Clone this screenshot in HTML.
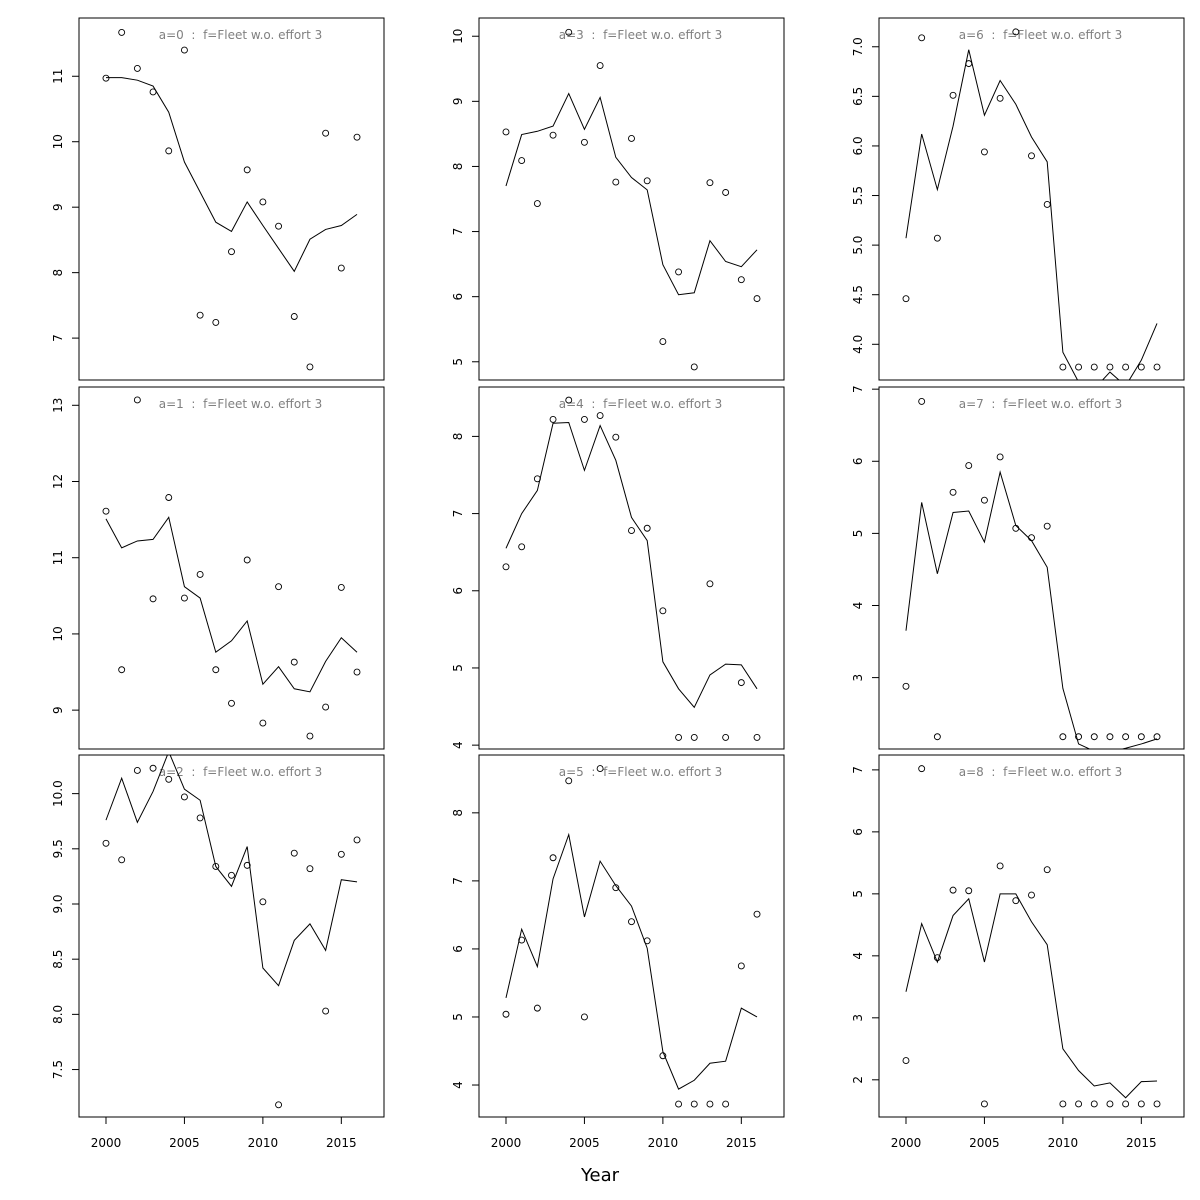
<!DOCTYPE html>
<html><head><meta charset="utf-8"><style>body{margin:0;background:#fff}svg{display:block}text{white-space:pre}</style></head>
<body>
<svg id="chart" width="1200" height="1200" xmlns="http://www.w3.org/2000/svg" font-family="'DejaVu Sans','Liberation Sans',sans-serif"></svg>
<script>
const years = [2000,2001,2002,2003,2004,2005,2006,2007,2008,2009,2010,2011,2012,2013,2014,2015,2016];
const xTicks = [2000,2005,2010,2015];
const ages = [0,3,6,1,4,7,2,5,8];
const obsA0 = [10.97,11.67,11.12,10.76,9.86,11.40,7.35,7.24,8.32,9.57,9.08,8.71,7.33,6.56,10.13,8.07,10.07];
const fitA0 = [10.98,10.98,10.94,10.85,10.45,9.69,9.23,8.77,8.63,9.08,8.72,8.37,8.02,8.51,8.66,8.72,8.89];
const obsA3 = [8.53,8.09,7.43,8.48,10.06,8.37,9.55,7.76,8.43,7.78,5.31,6.38,4.92,7.75,7.60,6.26,5.97];
const fitA3 = [7.70,8.49,8.54,8.62,9.12,8.57,9.06,8.14,7.83,7.64,6.49,6.03,6.06,6.86,6.54,6.46,6.72];
const obsA6 = [4.46,7.09,5.07,6.51,6.83,5.94,6.48,7.15,5.90,5.41,3.77,3.77,3.77,3.77,3.77,3.77,3.77];
const fitA6 = [5.07,6.12,5.56,6.20,6.97,6.31,6.66,6.42,6.09,5.84,3.92,3.62,3.55,3.72,3.58,3.84,4.21];
const obsA1 = [11.61,9.53,13.07,10.46,11.79,10.47,10.78,9.53,9.09,10.97,8.83,10.62,9.63,8.66,9.04,10.61,9.50];
const fitA1 = [11.51,11.13,11.22,11.24,11.53,10.62,10.47,9.76,9.91,10.17,9.34,9.57,9.28,9.24,9.64,9.95,9.76];
const obsA4 = [6.31,6.57,7.45,8.22,8.47,8.22,8.27,7.99,6.78,6.81,5.74,4.10,4.10,6.09,4.10,4.81,4.10];
const fitA4 = [6.55,7.00,7.30,8.17,8.18,7.56,8.14,7.69,6.95,6.65,5.08,4.73,4.49,4.91,5.05,5.04,4.73];
const obsA7 = [2.88,6.83,2.18,5.57,5.94,5.46,6.06,5.07,4.94,5.10,2.18,2.18,2.18,2.18,2.18,2.18,2.18];
const fitA7 = [3.65,5.43,4.44,5.29,5.31,4.88,5.85,5.11,4.90,4.53,2.85,2.08,1.98,1.97,2.02,2.08,2.15];
const obsA2 = [9.55,9.40,10.21,10.23,10.13,9.97,9.78,9.34,9.26,9.35,9.02,7.18,9.46,9.32,8.03,9.45,9.58];
const fitA2 = [9.76,10.14,9.74,10.02,10.38,10.04,9.94,9.34,9.16,9.52,8.42,8.26,8.67,8.82,8.58,9.22,9.20];
const obsA5 = [5.04,6.13,5.13,7.34,8.47,5.00,8.65,6.90,6.40,6.12,4.43,3.72,3.72,3.72,3.72,5.75,6.51];
const fitA5 = [5.28,6.29,5.74,7.03,7.68,6.47,7.29,6.93,6.63,6.01,4.49,3.94,4.07,4.32,4.35,5.13,5.00];
const obsA8 = [2.31,7.02,3.97,5.06,5.05,1.61,5.45,4.89,4.98,5.39,1.61,1.61,1.61,1.61,1.61,1.61,1.61];
const fitA8 = [3.42,4.52,3.90,4.65,4.92,3.90,5.00,5.00,4.55,4.18,2.50,2.15,1.90,1.95,1.71,1.97,1.98];
const yTicksA0=[7,8,9,10,11], yTicksA3=[5,6,7,8,9,10], yTicksA6=[4.0,4.5,5.0,5.5,6.0,6.5,7.0];
const yTicksA1=[9,10,11,12,13], yTicksA4=[4,5,6,7,8], yTicksA7=[3,4,5,6,7];
const yTicksA2=[7.5,8.0,8.5,9.0,9.5,10.0], yTicksA5=[4,5,6,7,8], yTicksA8=[2,3,4,5,6,7];
const yDomA0=[6.36,11.89], yDomA3=[4.72,10.28], yDomA6=[3.64,7.29];
const yDomA1=[8.49,13.24], yDomA4=[3.95,8.64], yDomA7=[2.01,7.03];
const yDomA2=[7.07,10.35], yDomA5=[3.53,8.85], yDomA8=[1.40,7.24];

const panels=[
 [obsA0,fitA0,yTicksA0,yDomA0,false],[obsA3,fitA3,yTicksA3,yDomA3,false],[obsA6,fitA6,yTicksA6,yDomA6,true],
 [obsA1,fitA1,yTicksA1,yDomA1,false],[obsA4,fitA4,yTicksA4,yDomA4,false],[obsA7,fitA7,yTicksA7,yDomA7,false],
 [obsA2,fitA2,yTicksA2,yDomA2,true],[obsA5,fitA5,yTicksA5,yDomA5,false],[obsA8,fitA8,yTicksA8,yDomA8,false]];
const svg=document.getElementById('chart');
const NS='http://www.w3.org/2000/svg';
function mk(tag,attrs,parent){const e=document.createElementNS(NS,tag);for(const k in attrs)e.setAttribute(k,attrs[k]);parent.appendChild(e);return e;}
const colX=[79,479,879], rowY=[18,387,755], PW=305, PH=362;
const xDom=[1998.28,2017.72];
panels.forEach((p,i)=>{
  const [obs,fit,yt,yd,oneDec]=p;
  const L=colX[i%3], T=rowY[Math.floor(i/3)];
  const sx=v=>L+(v-xDom[0])/(xDom[1]-xDom[0])*PW;
  const sy=v=>T+PH-(v-yd[0])/(yd[1]-yd[0])*PH;
  const g=mk('g',{},svg);
  
  
  const cid='clip'+i;
  const cp=mk('clipPath',{id:cid},g); mk('rect',{x:L,y:T,width:PW,height:PH},cp);
  const fr=mk('rect',{x:L,y:T,width:PW,height:PH,fill:'none',stroke:'#000','stroke-width':1},g);
  
  
  const yax=mk('g',{},g);
  
  
  yt.forEach(v=>{
    const y=sy(v);
    mk('line',{x1:L-7,x2:L,y1:y,y2:y,stroke:'#000'},yax);
    const t=mk('text',{x:L-17,y:y,'font-size':12,'text-anchor':'middle',transform:`rotate(-90 ${L-17} ${y})`},yax);
    
    
    t.textContent=oneDec?v.toFixed(1):String(v);
  });
  if(Math.floor(i/3)===2){
    const xax=mk('g',{},g);
    
    
    xTicks.forEach(v=>{
      const x=sx(v);
      mk('line',{x1:x,x2:x,y1:T+PH,y2:T+PH+7,stroke:'#000'},xax);
      const t=mk('text',{x:x,y:T+PH+30,'font-size':12,'text-anchor':'middle'},xax);
      
      
      t.textContent=v;
    });
  }
  const title=mk('text',{x:L+PW/2+9,y:T+21,'font-size':12,'text-anchor':'middle',fill:'#808080'},g);
  
  
  title.textContent=`a=${ages[i]}  :  f=Fleet w.o. effort 3`;
  const cg=mk('g',{'clip-path':`url(#${cid})`},g);
  const line=mk('polyline',{points:fit.map((v,j)=>sx(years[j])+','+sy(v)).join(' '),fill:'none',stroke:'#000','stroke-width':1},cg);
  
  
  obs.forEach((v,j)=>{
    const c=mk('circle',{cx:sx(years[j]),cy:sy(v),r:3,fill:'none',stroke:'#000','stroke-width':0.9},g);
    
    
  });
});
const xl=mk('text',{x:600,y:1181,'font-size':18,'text-anchor':'middle'},svg);


xl.textContent='Year';
</script>
</body></html>
